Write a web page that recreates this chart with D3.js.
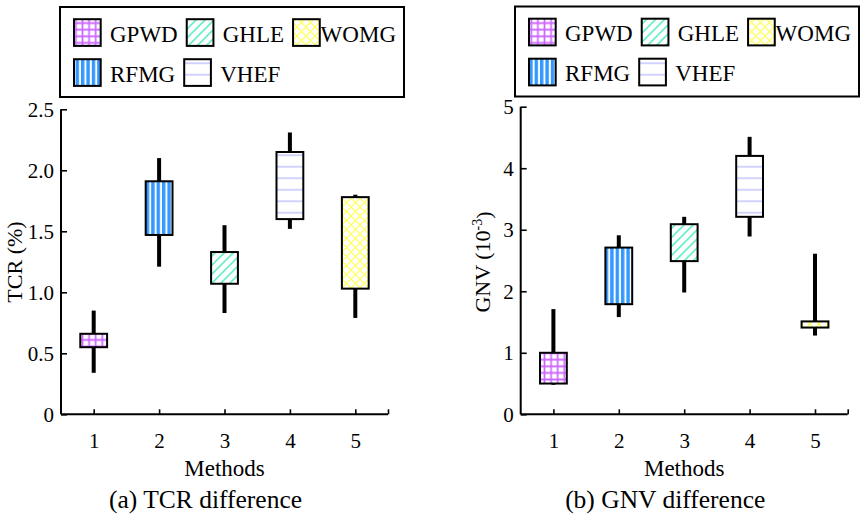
<!DOCTYPE html>
<html><head><meta charset="utf-8">
<script src="https://cdn.jsdelivr.net/npm/d3@7"></script>
<style>
html,body{margin:0;padding:0;background:#fff;}
text{font-family:"Liberation Serif","Times New Roman",serif;fill:#000;}
</style></head>
<body><svg id="c" width="864" height="522"></svg>
<script>
const methods = [1, 2, 3, 4, 5];
const seriesNames = ["GPWD", "RFMG", "GHLE", "VHEF", "WOMG"];
const legendRows = [["GPWD", "GHLE", "WOMG"], ["RFMG", "VHEF"]];

const tcrMin = [0.34, 1.21, 0.83, 1.52, 0.79];
const tcrQ1  = [0.55, 1.47, 1.07, 1.60, 1.03];
const tcrQ3  = [0.66, 1.91, 1.33, 2.15, 1.78];
const tcrMax = [0.85, 2.10, 1.55, 2.31, 1.80];
const tcrTicks = [0, 0.5, 1.0, 1.5, 2.0, 2.5];

const gnvMin = [0.48, 1.58, 1.98, 2.89, 1.28];
const gnvQ1  = [0.50, 1.79, 2.49, 3.21, 1.41];
const gnvQ3  = [1.00, 2.71, 3.09, 4.20, 1.51];
const gnvMax = [1.71, 2.91, 3.21, 4.51, 2.61];
const gnvTicks = [0, 1, 2, 3, 4, 5];

const svg = d3.select("#c");
const defs = svg.append("defs");

function pat(id, w, h, draw) {
  const p = defs.append("pattern").attr("id", id).attr("patternUnits", "userSpaceOnUse")
    .attr("width", w).attr("height", h);
  p.append("rect").attr("width", w).attr("height", h).attr("fill", "#fff");
  draw(p, w, h);
}
pat("p-GPWD", 6.6, 6.6, (p, w, h) => {
  p.append("path").attr("d", `M${w/2},0V${h}M0,${h/2}H${w}`).attr("stroke", "#cc66ff").attr("stroke-width", 1.7);
});
pat("p-RFMG", 5.4, 10, (p, w, h) => {
  p.append("rect").attr("x", 0).attr("width", 3.4).attr("height", h).attr("fill", "#3399ff");
});
pat("p-GHLE", 9, 9, (p, w, h) => {
  p.append("path").attr("d", `M0,${h}L${w},0M-2,2L2,-2M${w-2},${h+2}L${w+2},${h-2}`)
    .attr("stroke", "#66f0c8").attr("stroke-width", 1.6);
});
pat("p-VHEF", 10, 11.5, (p, w, h) => {
  p.append("path").attr("d", `M0,${h/2}H${w}`).attr("stroke", "#c4c4ff").attr("stroke-width", 1.5);
});
pat("p-WOMG", 9, 9, (p, w, h) => {
  p.append("path").attr("d", `M0,0L${w},${h}M0,${h}L${w},0`).attr("stroke", "#ffff66").attr("stroke-width", 1.3);
});

const FONT = '"Liberation Serif","Times New Roman",serif';

function panel(cfg) {
  const g = svg.append("g");
  const x = d3.scaleLinear().domain([0.5, 5.5]).range(cfg.xr);
  const y = d3.scaleLinear().domain(cfg.yd).range(cfg.yr);
  const bw = (x(2) - x(1)) * 0.41;

  const xa = g.append("g").attr("transform", `translate(0,${cfg.yr[0]})`)
    .call(d3.axisBottom(x).tickValues([...methods, 5.5]).tickSize(-5).tickPadding(0).tickFormat(d => d === 5.5 ? "" : d));
  const ya = g.append("g").attr("transform", `translate(${cfg.xr[0]},0)`)
    .call(d3.axisLeft(y).tickValues(cfg.ticks).tickSize(-6).tickPadding(7).tickFormat(cfg.fmt));
  [xa, ya].forEach(a => {
    a.attr("font-family", FONT);
    a.select(".domain").attr("stroke", "#000").attr("stroke-width", 2).attr("d",
      a === xa ? `M${cfg.xr[0]},0H${cfg.xr[1]}` : `M0,${cfg.yr[0]}V${cfg.yr[1]}`);
    a.selectAll(".tick line").attr("stroke", "#000").attr("stroke-width", 1.6);
    a.selectAll(".tick text").style("font-family", FONT)
      .style("font-size", "21px").attr("fill", "#000");
  });
  xa.selectAll(".tick text").attr("dy", null).attr("y", 34);
  ya.selectAll(".tick text").attr("dy", "0.34em");

  g.selectAll("line.wh").data(methods).join("line").attr("class", "wh")
    .attr("x1", d => x(d)).attr("x2", d => x(d))
    .attr("y1", (d, i) => y(cfg.mn[i])).attr("y2", (d, i) => y(cfg.mx[i]))
    .attr("stroke", "#000").attr("stroke-width", 4);
  g.selectAll("rect.bx").data(methods).join("rect").attr("class", "bx")
    .attr("x", d => x(d) - bw / 2).attr("width", bw)
    .attr("y", (d, i) => y(cfg.q3[i])).attr("height", (d, i) => y(cfg.q1[i]) - y(cfg.q3[i]))
    .attr("fill", (d, i) => `url(#p-${seriesNames[i]})`)
    .attr("stroke", "#000").attr("stroke-width", 2);

  const cx = (cfg.xr[0] + cfg.xr[1]) / 2;
  g.append("text").attr("x", cx).attr("y", 476).attr("text-anchor", "middle")
    .style("font-size", "23px").text("Methods");
  g.append("text").attr("x", cx - 19).attr("y", 508).attr("text-anchor", "middle")
    .style("font-size", "25.5px").text(cfg.caption);
  const yl = g.append("text").attr("transform", `translate(${cfg.ylx},262) rotate(-90)`)
    .attr("text-anchor", "middle").attr("dy", "0.35em").style("font-size", "22px");
  cfg.ylabel(yl);

  const L = cfg.legend;
  const lg = g.append("g");
  lg.append("rect").attr("x", L.x).attr("y", L.y).attr("width", 344).attr("height", 90)
    .attr("fill", "#fff").attr("stroke", "#000").attr("stroke-width", 2);
  const right = L.x + 344;
  legendRows.forEach((row, ri) => {
    let sx = L.x + 14;
    const cy = L.y + 25.5 + ri * 40;
    row.forEach(name => {
      lg.append("rect").attr("x", sx).attr("y", cy - 13.3).attr("width", 26.7).attr("height", 26.7)
        .attr("fill", `url(#p-${name})`).attr("stroke", "#000").attr("stroke-width", 2);
      const t = lg.append("text").attr("y", cy + 9).style("font-size", "23px").text(name);
      const w = t.node().getComputedTextLength();
      let tx = sx + 26.7 + 9.3;
      if (tx + w > right - 8) tx = right - 8 - w;
      t.attr("x", tx);
      sx = tx + w + 9;
    });
  });
}

panel({
  xr: [61, 388], yr: [414.3, 109.3], yd: [0, 2.5], ticks: tcrTicks,
  fmt: d => d === 0 ? "0" : d3.format(".1f")(d),
  mn: tcrMin, q1: tcrQ1, q3: tcrQ3, mx: tcrMax,
  caption: "(a) TCR difference", ylx: 14,
  ylabel: t => t.text("TCR (%)"),
  legend: { x: 60, y: 7 }
});
panel({
  xr: [520.7, 847.7], yr: [414.3, 106.7], yd: [0, 5], ticks: gnvTicks,
  fmt: d3.format("d"),
  mn: gnvMin, q1: gnvQ1, q3: gnvQ3, mx: gnvMax,
  caption: "(b) GNV difference", ylx: 482,
  ylabel: t => {
    t.append("tspan").text("GNV (10");
    t.append("tspan").attr("dy", "-0.55em").style("font-size", "14px").text("-3");
    t.append("tspan").attr("dy", "0.4em").text(")");
  },
  legend: { x: 515, y: 6.5 }
});
</script></body></html>
